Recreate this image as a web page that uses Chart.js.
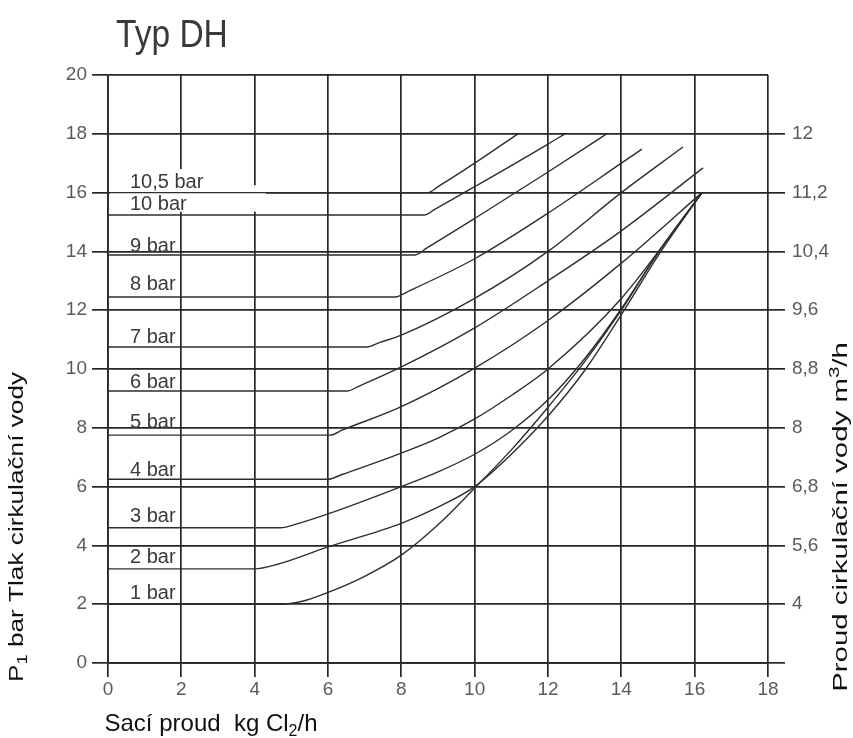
<!DOCTYPE html>
<html>
<head>
<meta charset="utf-8">
<script src="https://cdn.jsdelivr.net/npm/chart.js@4.4.1/dist/chart.umd.min.js"></script>
<style>
    html, body { margin: 0; padding: 0; background: #fff; }
</style>
</head>
<body>
<canvas id="dhChart" width="853" height="738"></canvas>
<script>
// curves: [kg Cl2/h, bar]
const curve1 = [[0, 2], [4.7, 2], [5.3, 2.1], [6, 2.4], [7, 2.95], [8, 3.67], [9, 4.7], [10, 5.95], [11, 7.25], [12, 8.7], [13, 10.25], [14, 12.0], [15, 13.95], [16.2, 16]];
const curve2 = [[0, 3.2], [4, 3.2], [4.6, 3.35], [6, 3.95], [8, 4.75], [9, 5.3], [10, 6.0], [11, 7.1], [12, 8.4], [13, 9.95], [14, 11.85], [15, 13.85], [16.2, 16]];
const curve3 = [[0, 4.6], [4.7, 4.6], [5.2, 4.75], [6, 5.07], [8, 6.0], [9, 6.5], [10, 7.1], [11, 7.9], [12, 8.95], [13, 10.35], [14, 12.05], [15, 13.95], [16.2, 16]];
const curve4 = [[0, 6.25], [6, 6.25], [6.4, 6.42], [8, 7.14], [9, 7.65], [10, 8.3], [11, 9.1], [12, 10.0], [14, 12.4], [16.2, 16]];
const curve5 = [[0, 7.75], [6.05, 7.75], [6.4, 7.93], [8, 8.72], [10, 10.03], [12, 11.65], [14, 13.6], [16.2, 16]];
const curve6 = [[0, 9.25], [6.52, 9.25], [6.85, 9.42], [8, 10.07], [10, 11.4], [12, 13.0], [14, 14.7], [16.23, 16.84]];
const curve7 = [[0, 10.75], [7.06, 10.75], [7.4, 10.9], [8, 11.15], [10, 12.4], [12, 14.0], [14, 16.0], [15.68, 17.55]];
const curve8 = [[0, 12.45], [7.83, 12.45], [8.2, 12.65], [10, 13.75], [12, 15.3], [14, 17.0], [14.56, 17.48]];
const curve9 = [[0, 13.88], [8.37, 13.88], [8.7, 14.12], [10, 15.12], [12, 16.7], [13.6, 18]];
const curve10 = [[0, 15.24], [8.64, 15.24], [8.9, 15.42], [10, 16.2], [12, 17.65], [12.46, 18]];
const curve105 = [[0, 16], [8.73, 16], [9, 16.2], [10, 17.0], [11.18, 18]];

const curves = [curve1, curve2, curve3, curve4, curve5, curve6, curve7, curve8, curve9, curve10, curve105];
const curveNames = ['1 bar', '2 bar', '3 bar', '4 bar', '5 bar', '6 bar', '7 bar', '8 bar', '9 bar', '10 bar', '10,5 bar'];
// baseline of each curve name, in bar
const curveLabelY = [2.18, 3.4, 4.8, 6.36, 7.99, 9.35, 10.88, 12.69, 13.98, 15.41, 16.16];

// right axis: water flow m3/h at the pressure gridlines
const flowTickValues = [2, 4, 6, 8, 10, 12, 14, 16, 18];
const flowTickLabels = ['4', '5,6', '6,8', '8', '8,8', '9,6', '10,4', '11,2', '12'];

const FONT = '"Liberation Sans", Arial, sans-serif';
const GRID = '#262626';
const INK = '#2e2e2e';

// draws text made of normal / sub / sup parts, centred on x
const drawRichText = (ctx, parts, x, y, size) => {
    const small = Math.round(size * 0.68);
    const widths = parts.map(p => {
        ctx.font = `${p.sub || p.sup ? small : size}px ${FONT}`;
        return ctx.measureText(p.t).width;
    });
    let cx = x - widths.reduce((a, b) => a + b, 0) / 2;
    parts.forEach((p, i) => {
        ctx.font = `${p.sub || p.sup ? small : size}px ${FONT}`;
        let dy = 0;
        if (p.sub) dy = size * 0.22;
        if (p.sup) dy = -size * 0.42;
        ctx.fillText(p.t, cx, y + dy);
        cx += widths[i];
    });
};

const textPlugin = {
    id: 'dhText',
    beforeDatasetsDraw(chart) {
        // white patch behind the top labels (gridlines are broken there)
        const { ctx, scales: { x, y } } = chart;
        ctx.save();
        ctx.fillStyle = '#fff';
        ctx.fillRect(x.getPixelForValue(0.05), y.getPixelForValue(16.8), x.getPixelForValue(2.3) - x.getPixelForValue(0.05), y.getPixelForValue(15.35) - y.getPixelForValue(16.8));
        ctx.fillRect(x.getPixelForValue(2.3), y.getPixelForValue(16.25), x.getPixelForValue(4.3) - x.getPixelForValue(2.3), y.getPixelForValue(15.35) - y.getPixelForValue(16.25));
        ctx.restore();
    },
    afterDraw(chart) {
        const { ctx, scales: { x, y } } = chart;
        ctx.save();
        ctx.fillStyle = '#3a3a3a';
        ctx.textBaseline = 'alphabetic';
        ctx.textAlign = 'left';
        ctx.font = `20px ${FONT}`;
        curveNames.forEach((name, i) => {
            ctx.fillText(name, x.getPixelForValue(0.6), y.getPixelForValue(curveLabelY[i]));
        });

        // title, narrow face
        ctx.save();
        ctx.translate(116, 47);
        ctx.scale(0.86, 1);
        ctx.font = `39px ${FONT}`;
        ctx.fillText('Typ DH', 0, 0);
        ctx.restore();

        // axis titles
        ctx.fillStyle = '#111';
        drawRichText(ctx, [{ t: 'Sací proud  kg Cl' }, { t: '2', sub: true }, { t: '/h' }], 211, 731, 24);

        ctx.save();
        ctx.translate(23, 527);
        ctx.rotate(-Math.PI / 2);
        ctx.scale(1.31, 1);
        drawRichText(ctx, [{ t: 'P' }, { t: '1', sub: true }, { t: ' bar Tlak cirkulační vody' }], 0, 0, 20);
        ctx.restore();

        ctx.save();
        ctx.translate(847, 517);
        ctx.rotate(-Math.PI / 2);
        ctx.scale(1.47, 1);
        drawRichText(ctx, [{ t: 'Proud cirkulační vody m' }, { t: '3', sup: true }, { t: '/h' }], 0, 0, 20);
        ctx.restore();
        ctx.restore();
    }
};

const datasets = curves.map((pts, i) => ({
    label: curveNames[i],
    data: pts.map(p => ({ x: p[0], y: p[1] })),
    showLine: true,
    borderColor: INK,
    borderWidth: 1.4,
    pointRadius: 0,
    fill: false,
    cubicInterpolationMode: 'monotone'
}));

const tickFont = { family: FONT, size: 19 };

new Chart(document.getElementById('dhChart'), {
    type: 'scatter',
    data: { datasets },
    options: {
        responsive: false,
        animation: false,
        layout: { padding: { top: 75, left: 0, right: 0, bottom: 0 } },
        plugins: {
            legend: { display: false },
            tooltip: { enabled: false }
        },
        scales: {
            x: {
                type: 'linear',
                min: 0,
                max: 18,
                ticks: { stepSize: 2, color: '#5a5a5a', font: tickFont, padding: 1, maxRotation: 0 },
                grid: { color: GRID, lineWidth: 1.7, tickLength: 14 },
                border: { color: GRID, width: 1.7 },
                afterFit: (scale) => { scale.height = 75; }
            },
            y: {
                type: 'linear',
                position: 'left',
                min: 0,
                max: 20,
                ticks: { stepSize: 2, color: '#5a5a5a', font: tickFont, padding: 5 },
                grid: { color: GRID, lineWidth: 1.7, tickLength: 16 },
                border: { color: GRID, width: 1.7 },
                afterFit: (scale) => { scale.width = 108; }
            },
            y2: {
                type: 'linear',
                position: 'right',
                min: 0,
                max: 20,
                afterBuildTicks: (scale) => {
                    scale.ticks = [0, ...flowTickValues].map(v => ({ value: v }));
                },
                ticks: {
                    color: '#5a5a5a',
                    font: tickFont,
                    padding: 7,
                    callback: (v) => {
                        const i = flowTickValues.indexOf(v);
                        return i >= 0 ? flowTickLabels[i] : '';
                    }
                },
                grid: { drawOnChartArea: false, color: GRID, lineWidth: 1.7, tickLength: 17 },
                border: { display: false },
                afterFit: (scale) => { scale.width = 85; }
            }
        }
    },
    plugins: [textPlugin]
});
</script>
</body>
</html>
